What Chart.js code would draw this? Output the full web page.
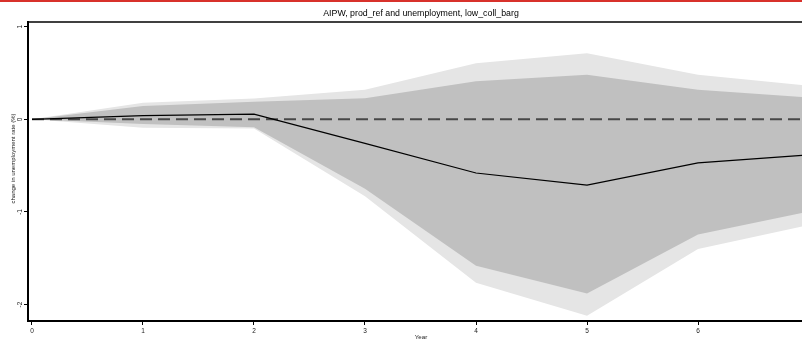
<!DOCTYPE html>
<html>
<head>
<meta charset="utf-8">
<script src="https://cdn.jsdelivr.net/npm/chart.js@4.4.1/dist/chart.umd.min.js"></script>
<style>
  html, body { margin: 0; padding: 0; background: #fff; }
  #wrap { position: relative; width: 802px; height: 339px; overflow: hidden; }
  #topRule { position: absolute; left: 0; top: 0; width: 100%; height: 2px; background: #d8312b; }
  canvas { display: block; }
</style>
</head>
<body>
<div id="wrap">
  <canvas id="irfChart" width="814" height="345"></canvas>
  <div id="topRule"></div>
</div>
<script>
// --- data: response of unemployment rate by year ---
const years = [0, 1, 2, 3, 4, 5, 6, 7];
const effect = [0, 0.04, 0.056, -0.26, -0.58, -0.71, -0.47, -0.385];
const innerUpper = [0, 0.145, 0.19, 0.228, 0.41, 0.48, 0.32, 0.235];
const innerLower = [0, -0.05, -0.085, -0.75, -1.58, -1.88, -1.245, -0.996];
const outerUpper = [0, 0.18, 0.225, 0.318, 0.605, 0.713, 0.48, 0.363];
const outerLower = [0, -0.09, -0.10, -0.83, -1.765, -2.12, -1.40, -1.14];
const zeroRef = [0, 0, 0, 0, 0, 0, 0, 0];

const xTicks = [0, 1, 2, 3, 4, 5, 6, 7];
const yTicks = [-2, -1, 0, 1];

const FONT = "'Liberation Sans', Arial, sans-serif";
const Y_TITLE = 'change in unemployment rate (%)';
const COLORS = {
    outer: '#e5e5e5',
    inner: '#c0c0c0',
    zero: '#474747',
    effect: '#000000',
    axis: '#000000',
    text: '#1a1a1a'
};

const toPoints = values => years.map((yr, i) => ({ x: yr, y: values[i] }));

function bandEdge(values, color, fillTarget, order) {
    return {
        data: toPoints(values),
        borderWidth: 0,
        pointRadius: 0,
        backgroundColor: color,
        fill: fillTarget,
        tension: 0,
        order: order
    };
}

// rule along the top of the plot region + the vertical axis title
const frameExtras = {
    id: 'frameExtras',
    afterDraw(chart) {
        const { ctx, chartArea } = chart;
        ctx.save();
        ctx.strokeStyle = COLORS.axis;
        ctx.lineWidth = 1.5;
        ctx.beginPath();
        ctx.moveTo(chartArea.left - 1, chartArea.top);
        ctx.lineTo(chartArea.right, chartArea.top);
        ctx.stroke();

        // y title sits a little above the plot's midline
        const midY = (chartArea.top + chartArea.bottom) / 2 - 13;
        ctx.translate(13, midY);
        ctx.rotate(-Math.PI / 2);
        ctx.fillStyle = COLORS.text;
        ctx.font = `6px ${FONT}`;
        ctx.textAlign = 'center';
        ctx.textBaseline = 'middle';
        ctx.fillText(Y_TITLE, 0, 0);
        ctx.restore();
    }
};

const ctx = document.getElementById('irfChart').getContext('2d');

new Chart(ctx, {
    type: 'line',
    data: {
        datasets: [
            {
                data: toPoints(effect),
                borderColor: COLORS.effect,
                borderWidth: 1.2,
                pointRadius: 0,
                fill: false,
                tension: 0,
                order: 0
            },
            {
                data: toPoints(zeroRef),
                borderColor: COLORS.zero,
                borderWidth: 2,
                borderDash: [12, 6],
                pointRadius: 0,
                fill: false,
                order: 1
            },
            bandEdge(innerUpper, COLORS.inner, '+1', 2),
            bandEdge(innerLower, COLORS.inner, false, 3),
            bandEdge(outerUpper, COLORS.outer, '+1', 4),
            bandEdge(outerLower, COLORS.outer, false, 5)
        ]
    },
    options: {
        responsive: false,
        animation: false,
        layout: { padding: 0 },
        scales: {
            x: {
                type: 'linear',
                min: -0.036,
                max: 7.045,
                afterBuildTicks: scale => { scale.ticks = xTicks.map(v => ({ value: v })); },
                afterFit: scale => { scale.height = 24; },
                ticks: {
                    color: COLORS.text,
                    font: { family: FONT, size: 6.5 },
                    padding: 2,
                    maxRotation: 0,
                    minRotation: 0
                },
                grid: {
                    display: true,
                    drawOnChartArea: false,
                    drawTicks: true,
                    tickLength: 4,
                    color: COLORS.axis,
                    lineWidth: 1
                },
                border: { display: true, color: COLORS.axis, width: 2 },
                title: {
                    display: true,
                    text: 'Year',
                    color: COLORS.text,
                    font: { family: FONT, size: 6.2 },
                    padding: { top: 0, bottom: 4.4 }
                }
            },
            y: {
                min: -2.178,
                max: 1.051,
                afterBuildTicks: scale => { scale.ticks = yTicks.map(v => ({ value: v })); },
                afterFit: scale => { scale.width = 28; },
                ticks: {
                    color: COLORS.text,
                    font: { family: FONT, size: 6.5 },
                    padding: 1,
                    minRotation: 90,
                    maxRotation: 90,
                    crossAlign: 'center'
                },
                grid: {
                    display: true,
                    drawOnChartArea: false,
                    drawTicks: true,
                    tickLength: 4,
                    color: COLORS.axis,
                    lineWidth: 1
                },
                border: { display: true, color: COLORS.axis, width: 2 },
                title: { display: false }
            }
        },
        plugins: {
            legend: { display: false },
            tooltip: { enabled: false },
            title: {
                display: true,
                fullSize: false,
                text: 'AIPW, prod_ref and unemployment, low_coll_barg',
                color: '#000',
                font: { family: FONT, size: 8.8, weight: 'normal' },
                padding: { top: 8, bottom: 3.44 }
            }
        }
    },
    plugins: [frameExtras]
});
</script>
</body>
</html>
